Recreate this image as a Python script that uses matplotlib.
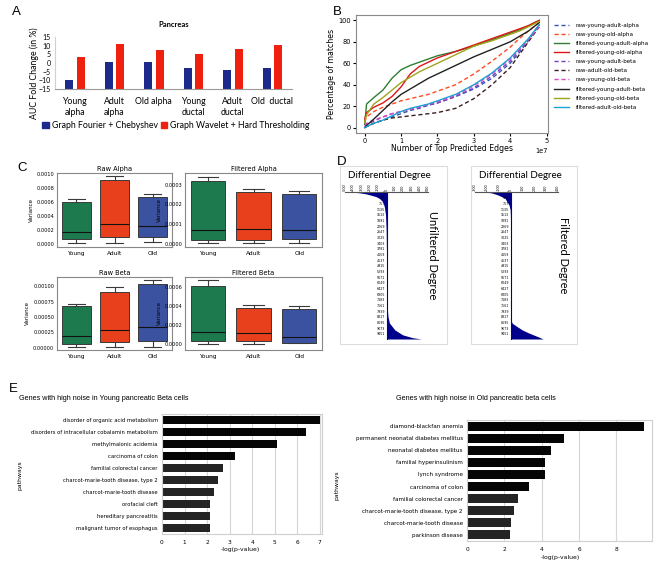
import matplotlib
matplotlib.use("Agg")
import matplotlib.pyplot as plt
import numpy as np
from matplotlib.patches import Rectangle
from matplotlib.ticker import FormatStrFormatter

W, H = 666, 564

# ---- panel A: AUC fold change
cell_types = ["Young\nalpha", "Adult\nalpha", "Old alpha", "Young\nductal", "Adult\nductal", "Old  ductal"]
fourier_auc = [-9.7, 0.6, 0.6, -3.0, -3.8, -3.0]
wavelet_auc = [3.2, 11.2, 7.4, 5.1, 8.3, 10.6]

# ---- panel B: percentage of matches vs top predicted edges (x in 1e7)
top_edges = [0, 0.05, 0.25, 0.5, 0.75, 1.0, 1.25, 1.5, 1.75, 2.0, 2.5, 3.0, 3.5, 4.0, 4.25, 4.5, 4.8]
raw_young_adult_alpha = [0, 1, 4, 7, 10, 13, 16, 18, 21, 23, 29, 36, 46, 60, 70, 81, 96]
raw_young_old_alpha = [5, 10, 15, 19, 22, 25, 27, 29, 31, 34, 40, 50, 62, 75, 83, 90, 98]
filt_young_adult_alpha = [3, 22, 28, 35, 46, 54, 58, 61, 64, 67, 71, 76, 82, 88, 91, 95, 100]
filt_young_old_alpha = [8, 14, 19, 23, 29, 38, 50, 57, 61, 65, 71, 77, 83, 89, 92, 95, 100]
raw_young_adult_beta = [1, 3, 6, 10, 13, 15, 17, 19, 21, 23, 29, 37, 48, 62, 72, 82, 96]
raw_adult_old_beta = [0, 1, 4, 7, 9, 10, 11, 12, 13, 14, 18, 27, 40, 56, 68, 80, 94]
raw_young_old_beta = [2, 4, 7, 10, 13, 15, 17, 19, 22, 24, 30, 39, 50, 64, 73, 82, 94]
filt_young_adult_beta = [0, 2, 8, 16, 24, 31, 36, 41, 46, 50, 58, 66, 73, 80, 85, 90, 98]
filt_young_old_beta = [5, 12, 22, 28, 35, 42, 47, 52, 56, 60, 68, 76, 81, 87, 90, 94, 99]
filt_adult_old_beta = [0, 1, 4, 7, 11, 15, 18, 20, 22, 25, 31, 40, 51, 65, 74, 83, 96]

# ---- panel C: variance box stats [whisker low, q1, median, q3, whisker high]
ages = ["Young", "Adult", "Old"]
raw_alpha = [[0.00001, 0.00006, 0.00016, 0.00060, 0.00065],
             [0.00001, 0.00009, 0.00028, 0.00092, 0.00097],
             [0.00002, 0.00009, 0.00025, 0.00067, 0.00071]]
filt_alpha = [[0.000005, 0.000018, 0.00007, 0.000317, 0.000342],
              [0.000005, 0.000017, 0.000073, 0.000261, 0.00028],
              [0.000005, 0.000024, 0.000071, 0.000253, 0.000268]]
raw_beta = [[0.00001, 0.000054, 0.000185, 0.00067, 0.00071],
            [0.00001, 0.000087, 0.00028, 0.00091, 0.00098],
            [0.000016, 0.0001, 0.00033, 0.00104, 0.0011]]
filt_beta = [[0.000007, 0.00003, 0.00013, 0.00062, 0.00068],
             [0.000007, 0.00003, 0.000116, 0.00038, 0.00041],
             [0.00001, 0.000018, 0.000074, 0.00037, 0.0004]]

# ---- panel D: sorted differential degree per gene rank
degree_ticks = list(range(1, 9452, 378))
unfilt_rank = [0, 50, 120, 200, 300, 420, 650, 980, 1500, 2500, 4000, 6000, 7800, 8300, 8720, 9180, 9510, 9700, 9787]
unfilt_diff = [-440, -330, -250, -195, -130, -86, -45, -26, -12, -4, 0, 3, 10, 18, 35, 100, 195, 315, 420]
filt_rank = [0, 60, 200, 420, 650, 870, 1200, 2000, 8500, 8740, 8960, 9190, 9410, 9630, 9787]
filt_diff = [-215, -160, -105, -47, -30, -13, -3, 0, 2, 14, 55, 100, 160, 230, 275]

# ---- panel E: enriched pathways
young_pathways = ["disorder of organic acid metabolism", "disorders of intracellular cobalamin metabolism",
                  "methylmalonic acidemia", "carcinoma of colon", "familial colorectal cancer",
                  "charcot-marie-tooth disease, type 2", "charcot-marie-tooth disease", "orofacial cleft",
                  "hereditary pancreatitis", "malignant tumor of esophagus"]
young_logp = [7.0, 6.4, 5.1, 3.25, 2.7, 2.47, 2.3, 2.12, 2.12, 2.12]
old_pathways = ["diamond-blackfan anemia", "permanent neonatal diabetes mellitus", "neonatal diabetes mellitus",
                "familial hyperinsulinism", "lynch syndrome", "carcinoma of colon", "familial colorectal cancer",
                "charcot-marie-tooth disease, type 2", "charcot-marie-tooth disease", "parkinson disease"]
old_logp = [9.46, 5.18, 4.52, 4.2, 4.2, 3.3, 2.73, 2.52, 2.34, 2.29]


def box(l, t, r, b):
    # pixel box -> figure fraction
    return [l / W, 1 - b / H, (r - l) / W, (b - t) / H]


def ftext(x, y, s, **kw):
    fig.text(x / W, 1 - y / H, s, **kw)


fig = plt.figure(figsize=(W / 100, H / 100), dpi=100)

for lab, x, y in [("A", 12, 12), ("B", 333, 12), ("C", 17, 168), ("D", 337, 162), ("E", 9, 389)]:
    ftext(x, y, lab, fontsize=9.5, family="Liberation Sans", va="center")

# A
ax = fig.add_axes(box(55, 37, 292, 89))
xs = np.arange(len(cell_types))
ax.bar(xs - 0.14, np.array(fourier_auc) + 15, bottom=-15, width=0.21, color="#1c2a8c")
ax.bar(xs + 0.15, np.array(wavelet_auc) + 15, bottom=-15, width=0.21, color="#f0200e")
ax.set_xlim(-0.5, 5.5)
ax.set_ylim(-15, 15)
ax.set_yticks(range(-15, 16, 5))
ax.set_xticks(xs)
ax.set_xticklabels(cell_types, family="Lato", fontsize=6.3, linespacing=1.25)
for t in ax.get_yticklabels():
    t.set_family("Lato")
ax.tick_params(axis="y", length=0, labelsize=5, pad=3)
ax.tick_params(axis="x", length=0, pad=6)
for s in ["top", "right"]:
    ax.spines[s].set_visible(False)
ax.spines["left"].set_color("#d0d0d0")
ax.spines["bottom"].set_color("#9a9a9a")
ax.set_title("Pancreas", fontsize=5.5, fontweight="bold", family="Lato", pad=7)
ftext(34, 73, "AUC Fold Change (in %)", rotation=90, ha="center", va="center", family="Lato", fontsize=6.3)
hands = [Rectangle((0, 0), 1, 1, color="#1c2a8c"), Rectangle((0, 0), 1, 1, color="#f0200e")]
ax.legend(hands, ["Graph Fourier + Chebyshev", "Graph Wavelet + Hard Thresholding"], loc="center left",
          bbox_to_anchor=(38 / W, 1 - 126 / H), bbox_transform=fig.transFigure, ncol=2, frameon=False,
          prop={"family": "Lato", "size": 6.3}, handlelength=0.7, handleheight=0.7,
          handletextpad=0.4, columnspacing=0.3, borderpad=0)

# B
ax = fig.add_axes(box(356, 15, 548, 133))
edges = np.array(top_edges) * 1e7
curves = [
    ("raw-young-adult-alpha", raw_young_adult_alpha, "#3656b8", "--"),
    ("raw-young-old-alpha", raw_young_old_alpha, "#ff4a22", "--"),
    ("filtered-young-adult-alpha", filt_young_adult_alpha, "#2f7d32", "-"),
    ("filtered-young-old-alpha", filt_young_old_alpha, "#dd1515", "-"),
    ("raw-young-adult-beta", raw_young_adult_beta, "#7a3fc4", "--"),
    ("raw-adult-old-beta", raw_adult_old_beta, "#3d1f1f", "--"),
    ("raw-young-old-beta", raw_young_old_beta, "#e045c8", "--"),
    ("filtered-young-adult-beta", filt_young_adult_beta, "#222222", "-"),
    ("filtered-young-old-beta", filt_young_old_beta, "#9ea51c", "-"),
    ("filtered-adult-old-beta", filt_adult_old_beta, "#1ea3d2", "-"),
]
for name, ys, c, ls in curves:
    ax.plot(edges, ys, color=c, ls=ls, lw=1.0, label=name, dashes=(3, 2) if ls == "--" else (None, None))
ax.set_yticks(range(0, 101, 20))
ax.tick_params(labelsize=4.8, length=2, pad=1.5)
ax.xaxis.get_offset_text().set_fontsize(4.8)
for s in ax.spines.values():
    s.set_color("#8a8a8a")
ax.set_xlabel("Number of Top Predicted Edges", fontsize=5.6, labelpad=0)
ax.set_ylabel("Percentage of matches", fontsize=5.6, labelpad=2)
ax.legend(loc="upper left", bbox_to_anchor=(551 / W, 1 - 20 / H), bbox_transform=fig.transFigure,
          frameon=False, fontsize=4.1, handlelength=2.6, handletextpad=1.2, labelspacing=0.72, borderpad=0)

# C
box_colors = ["#1d7a4e", "#e8401c", "#3b52a0"]
c_panels = [
    ("Raw Alpha", raw_alpha, (57, 173, 172, 247), (-0.00005, 0.00102), np.arange(0, 0.00101, 0.0002), "%.4f"),
    ("Filtered Alpha", filt_alpha, (185, 173, 322, 247), (-0.000017, 0.00036), np.arange(0, 0.00031, 0.0001), "%.4f"),
    ("Raw Beta", raw_beta, (57, 277, 172, 350), (-0.00004, 0.00115), np.arange(0, 0.00101, 0.00025), "%.5f"),
    ("Filtered Beta", filt_beta, (185, 277, 322, 350), (-0.00006, 0.00071), np.arange(0, 0.00061, 0.0002), "%.4f"),
]
for title, data, pos, ylim, ticks, fmt in c_panels:
    ax = fig.add_axes(box(*pos))
    stats = [dict(whislo=d[0], q1=d[1], med=d[2], q3=d[3], whishi=d[4], fliers=[], label=a)
             for d, a in zip(data, ages)]
    bp = ax.bxp(stats, positions=[1, 2, 3], widths=0.75, patch_artist=True, showfliers=False,
                capwidths=0.45,
                boxprops=dict(edgecolor="#3a3a3a", linewidth=0.7),
                medianprops=dict(color="#111111", linewidth=0.8),
                whiskerprops=dict(color="#3a3a3a", linewidth=0.8),
                capprops=dict(color="#3a3a3a", linewidth=0.8))
    for patch, c in zip(bp["boxes"], box_colors):
        patch.set_facecolor(c)
    ax.set_xlim(0.5, 3.5)
    ax.set_ylim(*ylim)
    ax.set_yticks(ticks)
    ax.yaxis.set_major_formatter(FormatStrFormatter(fmt))
    ax.tick_params(axis="y", labelsize=3.6, length=0, pad=2)
    ax.tick_params(axis="x", labelsize=4.2, length=0, pad=3)
    for s in ax.spines.values():
        s.set_color("#888888")
    ax.set_title(title, fontsize=4.8, pad=1.5)
    ax.set_ylabel("Variance", fontsize=4.0, labelpad=2)

# D
d_panels = [
    (unfilt_rank, unfilt_diff, (345, 192, 428, 339), (-500, 500), (340, 166, 447, 344),
     "Unfiltered Degree", 433),
    (filt_rank, filt_diff, (475, 192, 558, 339), (-300, 400), (471, 166, 577, 344),
     "Filtered Degree", 563),
]
for rank, diff, pos, xlim, frame, label, lx in d_panels:
    fig.add_artist(Rectangle((frame[0] / W, 1 - frame[3] / H), (frame[2] - frame[0]) / W,
                             (frame[3] - frame[1]) / H, transform=fig.transFigure,
                             fill=False, edgecolor="#dcdcdc", lw=0.8))
    ax = fig.add_axes(box(*pos))
    ax.patch.set_alpha(0)
    # spine moved first: moving it resets the tick labels
    ax.spines["left"].set_position(("data", 0))
    ax.fill_betweenx(rank, 0, diff, color="#00008b", lw=0)
    ax.set_xlim(*xlim)
    ax.set_ylim(9787, 0)
    ax.xaxis.tick_top()
    ax.set_xticks(range(xlim[0], xlim[1] + 1, 100))
    ax.set_xticklabels([str(v) for v in range(xlim[0], xlim[1] + 1, 100)], rotation=90, fontsize=2.4)
    ax.set_yticks(degree_ticks)
    ax.set_yticklabels([str(v) for v in degree_ticks], fontsize=2.3)
    ax.spines["left"].set_color("#00008b")
    ax.spines["top"].set_color("#555555")
    ax.spines["top"].set_linewidth(0.8)
    ax.spines["right"].set_visible(False)
    ax.spines["bottom"].set_visible(False)
    ax.tick_params(length=0, pad=1)
    ftext(frame[0] + 8, 175, "Differential Degree", family="Lato", fontsize=7, va="center")
    ftext(lx, 255, label, family="Lato", fontsize=8, rotation=270, ha="center", va="center")

# E
e_panels = [
    (young_pathways, young_logp, (162, 414, 322, 534), 7.1, range(0, 8),
     "Genes with high noise in Young pancreatic Beta cells", (19, 398, "left"), 3.75, (20, 475), (240, 550)),
    (old_pathways, old_logp, (467, 420, 652, 541), 9.9, range(0, 9, 2),
     "Genes with high noise in Old pancreatic beta cells", (476, 398, "center"), 4.1, (337, 485), (560, 558)),
]
for names, vals, pos, xmax, xt, title, tpos, fs, ylpos, xlpos in e_panels:
    ax = fig.add_axes(box(*pos))
    cols = ["#050505" if v > 3 else "#242424" for v in vals]
    ax.barh(np.arange(len(names)), vals, height=0.74, color=cols, zorder=2)
    ax.set_ylim(len(names) - 0.5, -0.5)
    ax.set_xlim(0, xmax)
    ax.set_xticks(list(xt))
    ax.set_yticks(np.arange(len(names)))
    ax.set_yticklabels(names, fontsize=fs)
    ax.tick_params(axis="y", length=0, pad=3)
    ax.tick_params(axis="x", length=0, labelsize=4.2, pad=4)
    ax.grid(axis="x", color="#d6d6d6", lw=0.8, zorder=0)
    for s in ax.spines.values():
        s.set_color("#cfcfcf")
    ftext(tpos[0], tpos[1], title, ha=tpos[2], va="center", fontsize=5.2, family="Liberation Sans")
    ftext(ylpos[0], ylpos[1], "pathways", rotation=90, ha="center", va="center", fontsize=4.4)
    ftext(xlpos[0], xlpos[1], "-log(p-value)", ha="center", va="center", fontsize=4.4)

fig.savefig("out.png", dpi=100)
